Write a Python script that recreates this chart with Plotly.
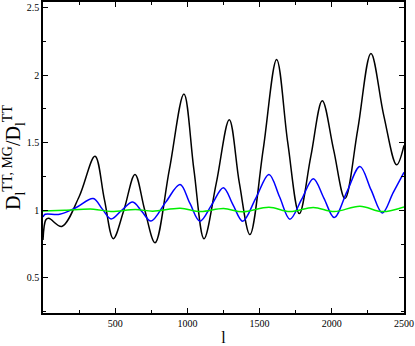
import plotly.graph_objects as go

# values
l_black = [0, 20, 40, 130, 250, 360, 425, 487, 560, 637, 705, 776, 875, 976, 1045, 1115,
           1200, 1290, 1360, 1433, 1525, 1618, 1695, 1775, 1855, 1934, 2012, 2091, 2180,
           2271, 2360, 2449, 2500]
d_black = [0.78, 0.93, 0.94, 0.88, 1.10, 1.40, 1.08, 0.79, 1.00, 1.265, 1.00, 0.76, 1.30, 1.86,
           1.30, 0.79, 1.20, 1.67, 1.20, 0.82, 1.45, 2.115, 1.50, 0.975, 1.40, 1.81, 1.45,
           1.086, 1.60, 2.16, 1.70, 1.336, 1.48]

l_blue = [0, 15, 115, 230, 348, 410, 471, 545, 621, 685, 748, 850, 949, 1018, 1087, 1168,
          1249, 1316, 1383, 1474, 1565, 1638, 1710, 1791, 1872, 1945, 2017, 2106, 2195,
          2272, 2350, 2425, 2500]
d_blue = [0.95, 0.97, 0.97, 1.02, 1.086, 1.01, 0.936, 1.00, 1.061, 0.99, 0.92, 1.06, 1.19,
          1.05, 0.919, 1.04, 1.167, 1.04, 0.919, 1.09, 1.265, 1.10, 0.934, 1.08, 1.233, 1.09,
          0.946, 1.14, 1.324, 1.15, 0.98, 1.13, 1.28]

l_green = [0, 150, 350, 470, 640, 760, 950, 1090, 1250, 1383, 1565, 1710, 1872, 2017, 2195,
           2350, 2500]
d_green = [0.995, 1.0, 1.008, 0.99, 1.005, 0.993, 1.015, 0.99, 1.012, 0.988, 1.022, 0.99,
           1.02, 0.99, 1.03, 0.99, 1.025]

x_ticks = [500, 1000, 1500, 2000, 2500]
y_ticks = [0.5, 1, 1.5, 2, 2.5]
y_labels = ['0.5', '1', '1.5', '2', '2.5']

serif = 'Liberation Serif, Times New Roman, serif'

fig = go.Figure()
fig.add_trace(go.Scatter(x=l_black, y=d_black, mode='lines',
                         line=dict(color='black', width=1.5, shape='spline', smoothing=1)))
fig.add_trace(go.Scatter(x=l_blue, y=d_blue, mode='lines',
                         line=dict(color='#0000ff', width=1.5, shape='spline', smoothing=1)))
fig.add_trace(go.Scatter(x=l_green, y=d_green, mode='lines',
                         line=dict(color='#00ee00', width=1.5, shape='spline', smoothing=1)))

axis_style = dict(showgrid=False, zeroline=False, showline=True, linecolor='black',
                  linewidth=1.5, mirror='allticks', ticks='inside', ticklen=5,
                  tickcolor='black', automargin=False,
                  tickfont=dict(family=serif, size=10, color='black'))

fig.update_layout(
    width=415, height=346,
    margin=dict(l=43, r=11, t=2, b=33),
    plot_bgcolor='white', paper_bgcolor='white',
    showlegend=False,
    xaxis=dict(range=[0, 2500], tickvals=x_ticks,
               minor=dict(ticks='inside', dtick=250, tick0=0, ticklen=3, tickcolor='black'),
               title=dict(text='l', font=dict(family=serif, size=16, color='black'),
                          standoff=7),
               **axis_style),
    yaxis=dict(range=[0.24, 2.54], tickvals=y_ticks, ticktext=y_labels,
               minor=dict(ticks='inside', dtick=0.25, tick0=0, ticklen=3, tickcolor='black'),
               title=dict(text='D<sub>l</sub><sup>TT, MG</sup>/D<sub>l</sub><sup>TT</sup>',
                          font=dict(family=serif, size=20, color='black'),
                          standoff=4),
               **axis_style),
)

# the page body has a default 8px margin; drop it so the figure sits at the corner
fig.write_html("out.html", config={'displayModeBar': False},
               post_script="document.body.style.margin='0';")
